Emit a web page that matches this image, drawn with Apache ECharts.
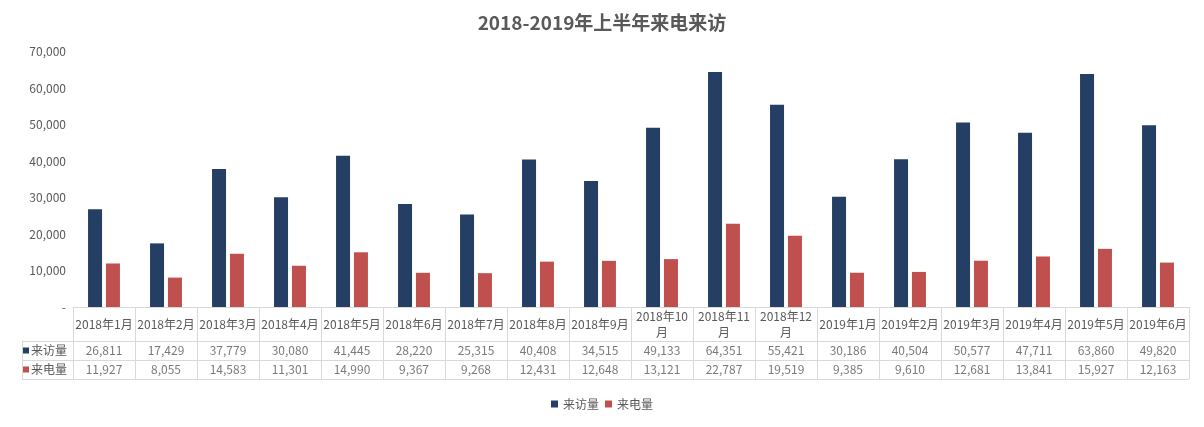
<!DOCTYPE html>
<html lang="zh">
<head>
<meta charset="UTF-8">
<title>2018-2019年上半年来电来访</title>
<script src="https://cdn.jsdelivr.net/npm/echarts@6/dist/echarts.min.js"></script>
<style>
    html, body { margin: 0; padding: 0; background: #fff; }
    #container { width: 1204px; height: 427px; }
</style>
</head>
<body>
<div id="container"></div>
<script>
    // 数据
    var months = ['2018年1月', '2018年2月', '2018年3月', '2018年4月', '2018年5月', '2018年6月',
        '2018年7月', '2018年8月', '2018年9月', '2018年10月', '2018年11月', '2018年12月',
        '2019年1月', '2019年2月', '2019年3月', '2019年4月', '2019年5月', '2019年6月'];
    var visits = [26811, 17429, 37779, 30080, 41445, 28220, 25315, 40408, 34515,
        49133, 64351, 55421, 30186, 40504, 50577, 47711, 63860, 49820];
    var calls = [11927, 8055, 14583, 11301, 14990, 9367, 9268, 12431, 12648,
        13121, 22787, 19519, 9385, 9610, 12681, 13841, 15927, 12163];
    var rowNames = ['来访量', '来电量'];
    var colors = ['#243F63', '#C0504D'];

    var chart = echarts.init(document.getElementById('container'));
    var font = '"Microsoft YaHei", "Noto Sans CJK SC", sans-serif';
    var textColor = '#595959';
    var lineColor = '#D9D9D9';

    function fmt(v) {
        return v === 0 ? '-' : v.toLocaleString('en-US');
    }

    // 数据表单元格
    var cellData = [];
    months.forEach(function (m, i) {
        cellData.push([m, rowNames[0], visits[i]]);
        cellData.push([m, rowNames[1], calls[i]]);
    });

    var option = {
        animation: false,
        textStyle: { fontFamily: font },
        title: {
            text: '2018-2019年上半年来电来访',
            left: 'center',
            top: 8,
            textStyle: { fontSize: 19, fontWeight: 'bold', color: textColor, fontFamily: font }
        },
        legend: {
            data: rowNames,
            bottom: 12,
            left: 'center',
            icon: 'rect',
            itemWidth: 7,
            itemHeight: 7,
            itemGap: 6,
            textStyle: { color: textColor, fontSize: 12, fontFamily: font }
        },
        grid: [
            { left: 73, right: 15, top: 51.5, bottom: 120 },
            { left: 73, right: 15, top: 341, height: 38 }
        ],
        xAxis: [
            {
                type: 'category',
                gridIndex: 0,
                data: months,
                axisLine: { lineStyle: { color: lineColor } },
                axisTick: { show: true, length: 72, lineStyle: { color: lineColor } },
                axisLabel: {
                    interval: 0,
                    margin: 17,
                    verticalAlign: 'middle',
                    color: textColor,
                    fontSize: 12,
                    lineHeight: 16,
                    formatter: function (v) {
                        // 两位数月份放不下，换行
                        return v.length >= 8 ? v.slice(0, -1) + '\n月' : v;
                    }
                }
            },
            {
                type: 'category',
                gridIndex: 1,
                data: months,
                axisLine: { show: false },
                axisTick: { show: false },
                axisLabel: { show: false },
                splitLine: { show: false }
            }
        ],
        yAxis: [
            {
                type: 'value',
                gridIndex: 0,
                min: 0,
                max: 70000,
                interval: 10000,
                axisLine: { show: false },
                axisTick: { show: false },
                splitLine: { show: false },
                axisLabel: { margin: 7, color: textColor, fontSize: 12, formatter: fmt }
            },
            {
                type: 'category',
                gridIndex: 1,
                data: rowNames,
                inverse: true,
                axisLine: { show: true, lineStyle: { color: lineColor } },
                axisTick: { show: true, length: 51, lineStyle: { color: lineColor } },
                splitLine: { show: true, lineStyle: { color: lineColor } },
                axisLabel: {
                    margin: 50,
                    align: 'left',
                    color: textColor,
                    fontSize: 12,
                    formatter: function (v, i) {
                        return '{s' + i + '|}{t|' + v + '}';
                    },
                    rich: {
                        s0: { width: 6, height: 6, backgroundColor: colors[0] },
                        s1: { width: 6, height: 6, backgroundColor: colors[1] },
                        t: { color: textColor, fontSize: 12, padding: [0, 0, 0, 2] }
                    }
                }
            },
            {
                type: 'category',
                gridIndex: 1,
                data: rowNames,
                inverse: true,
                position: 'left',
                offset: 51,
                axisLine: { show: true, lineStyle: { color: lineColor } },
                axisTick: { show: false },
                axisLabel: { show: false },
                splitLine: { show: false }
            }
        ],
        series: [
            {
                name: rowNames[0],
                type: 'bar',
                xAxisIndex: 0,
                yAxisIndex: 0,
                data: visits,
                barWidth: 14,
                barGap: '28%',
                itemStyle: { color: colors[0] }
            },
            {
                name: rowNames[1],
                type: 'bar',
                xAxisIndex: 0,
                yAxisIndex: 0,
                data: calls,
                barWidth: 14,
                barGap: '28%',
                itemStyle: { color: colors[1] }
            },
            {
                type: 'scatter',
                xAxisIndex: 1,
                yAxisIndex: 1,
                data: cellData,
                symbolSize: 0,
                silent: true,
                label: {
                    show: true,
                    position: 'inside',
                    color: textColor,
                    fontSize: 12,
                    formatter: function (p) { return fmt(p.value[2]); }
                }
            }
        ]
    };

    chart.setOption(option);
</script>
</body>
</html>
